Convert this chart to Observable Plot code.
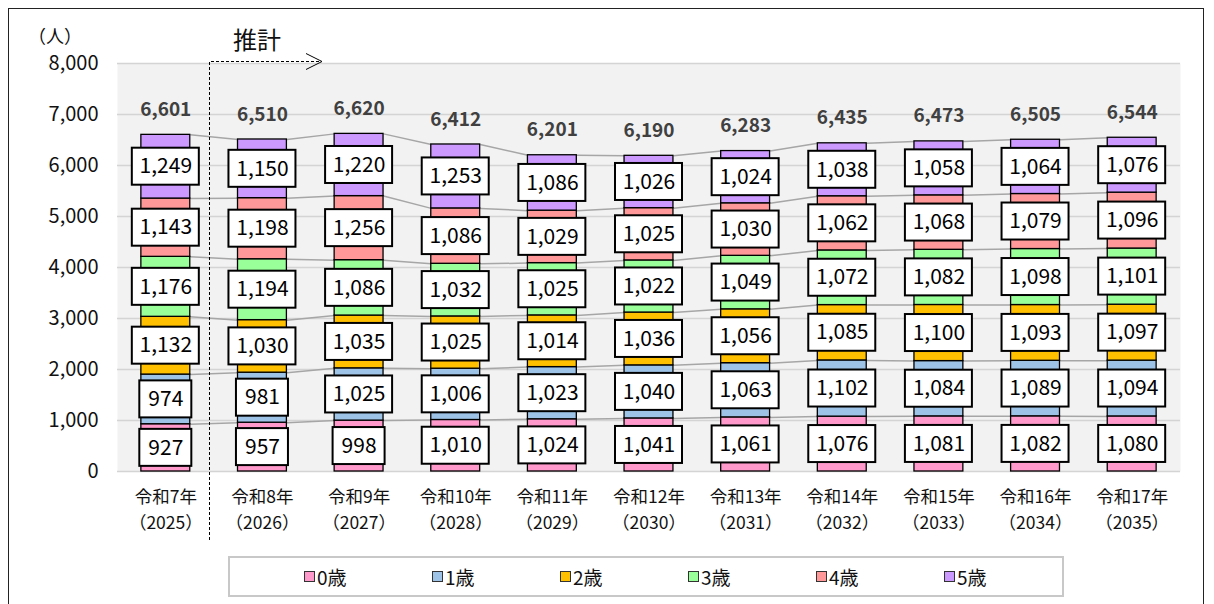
<!DOCTYPE html>
<html><head><meta charset="utf-8">
<script src="https://cdn.jsdelivr.net/npm/d3@7"></script>
<script src="https://cdn.jsdelivr.net/npm/@observablehq/plot@0.6"></script>
<style>
body{margin:0;background:#fff;font-family:"Noto Sans CJK JP","Noto Sans",sans-serif;}
#wrap{position:relative;width:1214px;height:604px;overflow:hidden;background:#fff;}
#frame{position:absolute;left:8px;top:8px;width:1196px;height:640px;border:1.5px solid #222;box-sizing:border-box;pointer-events:none;}
#chart{position:absolute;left:0;top:0;}
#anno{position:absolute;left:0;top:0;}
#legend{position:absolute;left:228px;top:556px;width:836px;height:41px;border:2px solid #c8c8c8;box-sizing:border-box;background:#fff;}
.item{position:absolute;top:0;height:37px;display:flex;align-items:center;font-size:19px;color:#111;}
.sw{width:9px;height:9px;border:1.5px solid #333;margin-right:2px;}
</style>
</head><body>
<div id="wrap"><div id="chart"></div><svg id="anno" width="1214" height="604"></svg><div id="legend"></div><div id="frame"></div></div>
<script>
const reiwa = ["令和7年","令和8年","令和9年","令和10年","令和11年","令和12年","令和13年","令和14年","令和15年","令和16年","令和17年"];
const years = ["2025","2026","2027","2028","2029","2030","2031","2032","2033","2034","2035"];
const ages = ["0歳","1歳","2歳","3歳","4歳","5歳"];
const colors = ["#FF99CC","#9DC3E6","#FFC000","#99FF99","#FF9999","#CC99FF"];
const age0 = [927, 957, 998, 1010, 1024, 1041, 1061, 1076, 1081, 1082, 1080];
const age1 = [974, 981, 1025, 1006, 1023, 1040, 1063, 1102, 1084, 1089, 1094];
const age2 = [1132, 1030, 1035, 1025, 1014, 1036, 1056, 1085, 1100, 1093, 1097];
const age3 = [1176, 1194, 1086, 1032, 1025, 1022, 1049, 1072, 1082, 1098, 1101];
const age4 = [1143, 1198, 1256, 1086, 1029, 1025, 1030, 1062, 1068, 1079, 1096];
const age5 = [1249, 1150, 1220, 1253, 1086, 1026, 1024, 1038, 1058, 1064, 1076];
const totals = [6601, 6510, 6620, 6412, 6201, 6190, 6283, 6435, 6473, 6505, 6544];
const yTicks = [0,1000,2000,3000,4000,5000,6000,7000,8000];

const series = [age0, age1, age2, age3, age4, age5];
const fmt = d3.format(",");
const hw = 0.253;

const rows = [];
const tops = series.map(() => []);
years.forEach((y, i) => {
  let cum = 0;
  series.forEach((s, k) => {
    const v = s[i];
    rows.push({i, age: ages[k], v, y1: cum, y2: cum + v, mid: cum + v / 2});
    cum += v;
    tops[k].push(cum);
  });
});
const links = [];
tops.forEach((t, k) => {
  for (let i = 0; i < t.length - 1; i++) links.push({x1: i + hw, x2: i + 1 - hw, y1: t[i], y2: t[i + 1]});
});
const totRows = totals.map((t, i) => ({i, t}));
const xRows = years.map((y, i) => ({i, l1: reiwa[i], l2: "（" + y + "）"}));

const plot = Plot.plot({
  width: 1214, height: 604,
  marginTop: 63, marginBottom: 133, marginLeft: 117, marginRight: 34,
  style: {fontFamily: '"Noto Sans CJK JP", sans-serif', background: "transparent"},
  x: {type: "linear", domain: [-0.5, 10.5], axis: null},
  y: {domain: [0, 8000], axis: null},
  color: {domain: ages, range: colors},
  marks: [
    Plot.frame({fill: "#f2f2f2", stroke: null}),
    Plot.gridY(yTicks, {stroke: "#d4d4d4", strokeOpacity: 1, strokeWidth: 1.5}),
    Plot.link(links, {x1: "x1", x2: "x2", y1: "y1", y2: "y2", stroke: "#a6a6a6", strokeWidth: 1.5}),
    Plot.rect(rows, {x1: d => d.i - hw, x2: d => d.i + hw, y1: "y1", y2: "y2", fill: "age", stroke: "#000", strokeWidth: 1.3}),
    Plot.text(rows, {
      x: "i", y: "mid", text: d => fmt(d.v), fontSize: 21, fill: "#000",
      render(index, scales, values, dimensions, context, next) {
        const g = next(index, scales, values, dimensions, context);
        const wrap = d3.create("svg:g");
        for (const j of index) {
          const w = fmt(rows[j].v).length > 3 ? 67 : 52;
          wrap.append("rect").attr("x", values.x[j] - w / 2).attr("y", values.y[j] - 18.5)
            .attr("width", w).attr("height", 37).attr("fill", "#fff").attr("stroke", "#000").attr("stroke-width", 2);
        }
        wrap.append(() => g);
        return wrap.node();
      }
    }),
    Plot.text(totRows, {x: "i", y: "t", text: d => fmt(d.t), dy: -25, fontSize: 19, fontWeight: "bold", fill: "#404040"}),
    Plot.text(xRows, {x: "i", y: () => 0, text: "l1", dy: 25.5, fontSize: 17.5, fill: "#111"}),
    Plot.text(xRows, {x: "i", y: () => 0, text: "l2", dy: 51.5, fontSize: 17.5, fill: "#111"}),
    Plot.axisY(yTicks, {tickSize: 0, tickPadding: 19, fontSize: 20, tickFormat: fmt, label: null, fill: "#111"})
  ]
});
document.getElementById("chart").appendChild(plot);

// annotations
const xs = plot.scale("x");
const xv = Math.round(xs.apply(0.5)) - 4.5;
const anno = d3.select("#anno");
anno.append("text").attr("x", 28).attr("y", 43).attr("font-size", 18).attr("fill", "#111").text("（人）");
anno.append("text").attr("x", 233).attr("y", 49).attr("font-size", 24).attr("fill", "#111").text("推計");
anno.append("path").attr("d", `M${xv},540V61.5H321`).attr("fill", "none").attr("stroke", "#000").attr("stroke-width", 1).attr("stroke-dasharray", "3,2");
anno.append("path").attr("d", "M306,53.5L322,61.5L306,69.5").attr("fill", "none").attr("stroke", "#000").attr("stroke-width", 1);

// legend
const leg = d3.select("#legend");
ages.forEach((a, k) => {
  const it = leg.append("div").attr("class", "item").style("left", (74 + 128 * k) + "px");
  it.append("div").attr("class", "sw").style("background", colors[k]);
  it.append("span").text(a);
});
</script>
</body></html>
